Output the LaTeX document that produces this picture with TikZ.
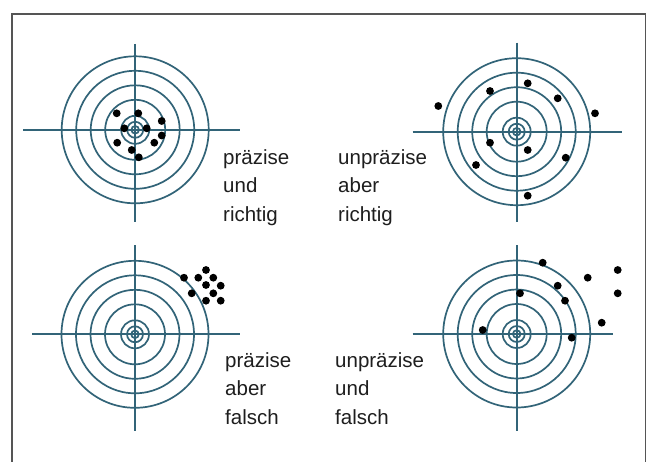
\documentclass[tikz,border=0pt]{standalone}
\usepackage{fontspec}
\setmainfont{Liberation Sans}
\definecolor{ring}{RGB}{50,100,120}
\definecolor{txt}{RGB}{30,30,30}
\definecolor{frame}{RGB}{85,85,85}
\tikzset{
  ringline/.style={draw=ring, line width=1.7pt},
  hit/.style={fill=black},
  lbl/.style={anchor=base west, inner sep=0pt, text=txt, font=\fontsize{20.5}{24}\selectfont},
}
% center x, center y, left, right, up, down extents of the cross
\newcommand\zielscheibe[6]{%
  \foreach \r in {3.8,8,14,30,44.5,59,73.5} {\draw[ringline] (#1,#2) circle[radius=\r];}
  \draw[ringline] (#1-#3,#2) -- (#1+#4,#2);
  \draw[ringline] (#1,#2-#5) -- (#1,#2+#6);
}
\begin{document}
\begin{tikzpicture}[x=1pt,y=-1pt]
\useasboundingbox (0,0) rectangle (652,461);
\fill[white] (0,0) rectangle (652,461);
\draw[frame, line width=1.8pt] (12,470) -- (12,14) -- (645.5,14) -- (645.5,470);

% targets
\zielscheibe{135.2}{129.8}{112}{104.5}{86}{92.5}
\zielscheibe{516.7}{131.7}{104}{105}{89}{90}
\zielscheibe{135}{334.3}{103}{105}{89}{97}
\zielscheibe{516.7}{334}{104}{96}{89}{97}

% hits: precise and correct
\foreach \p in {(116.7,113.3),(138.3,113.3),(161.7,121),(124.3,128.3),(146.7,128.3),
  (161.7,135.5),(117.2,142.7),(154.3,142.7),(131.7,150),(138.8,157.3)}
  {\fill[hit] \p circle[radius=3.9];}
% hits: imprecise but correct
\foreach \p in {(527.7,83.3),(490,91),(557.7,98.3),(438.3,106),(595,113.3),
  (490,142.7),(527.7,150),(565.7,157.7),(476,165),(527.7,195.7)}
  {\fill[hit] \p circle[radius=3.9];}
% hits: precise but wrong
\foreach \p in {(206,270),(184,277.7),(198.3,277.7),(213.3,277.7),(206,285),
  (220.7,285.7),(191.7,293.3),(213.3,293.3),(206,300.7),(220.7,300.7)}
  {\fill[hit] \p circle[radius=3.9];}
% hits: imprecise and wrong
\foreach \p in {(542.7,262.7),(617.7,270),(587.7,277.7),(557.7,285.7),(520,293.3),
  (617.7,293.3),(565,300.7),(601.7,322.7),(482.7,330),(571.7,337.7)}
  {\fill[hit] \p circle[radius=3.9];}

% labels
\node[lbl] (a1) at (223,164) {präzise};
\node[lbl] (a2) at (223,192.5) {und};
\node[lbl] (a3) at (223,221) {richtig};
\node[lbl] (b1) at (338,164) {unpräzise};
\node[lbl] (b2) at (338,192.5) {aber};
\node[lbl] (b3) at (338,221) {richtig};
\node[lbl] (c1) at (225,367) {präzise};
\node[lbl] (c2) at (225,395.5) {aber};
\node[lbl] (c3) at (225,424) {falsch};
\node[lbl] (d1) at (335,367) {unpräzise};
\node[lbl] (d2) at (335,395.5) {und};
\node[lbl] (d3) at (335,424) {falsch};
\end{tikzpicture}
\end{document}
